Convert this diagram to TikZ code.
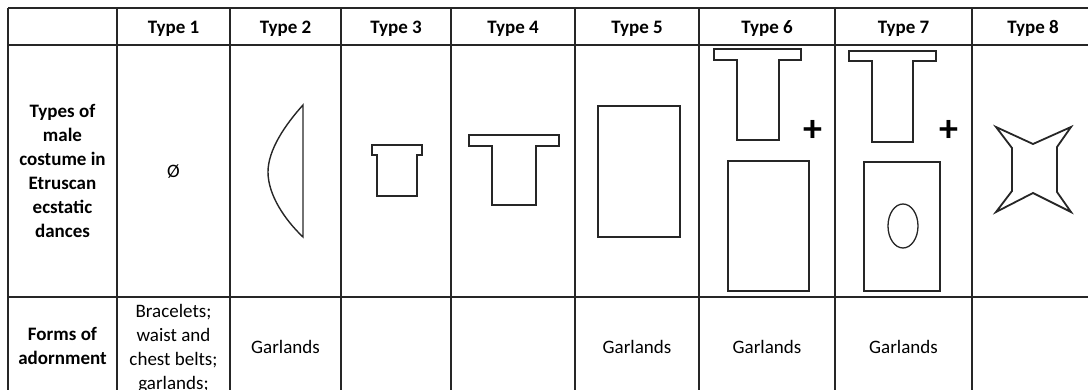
\documentclass[tikz,border=0pt]{standalone}
\usepackage{fontspec}
\setmainfont{Carlito}
\begin{document}
\begin{tikzpicture}[x=1pt,y=-1pt,
		grid/.style={line width=1.1pt,draw=black!85},
		figure/.style={line width=1.8pt,draw=black!85,line join=miter},
		head/.style={font=\fontsize{19}{24}\selectfont\bfseries,inner sep=0pt},
		cell/.style={font=\fontsize{19}{24}\selectfont,inner sep=0pt,align=center},
		rowlabel/.style={cell,font=\fontsize{19}{24}\selectfont\bfseries},
		plus/.style={font=\fontsize{38}{38}\selectfont\bfseries,inner sep=0pt}]
			\useasboundingbox (0,0) rectangle (1088,390);
			\clip (0,0) rectangle (1088,390);
			\draw [grid] (8,8) to (1088,8);
			\draw [grid] (8,45) to (1088,45);
			\draw [grid] (8,297) to (1088,297);
			\draw [grid] (8,8) to (8,390);
			\draw [grid] (117,8) to (117,390);
			\draw [grid] (230,8) to (230,390);
			\draw [grid] (341,8) to (341,390);
			\draw [grid] (451,8) to (451,390);
			\draw [grid] (575,8) to (575,390);
			\draw [grid] (699,8) to (699,390);
			\draw [grid] (835,8) to (835,390);
			\draw [grid] (972,8) to (972,390);
			\node[head] (type1) at (173.5,28.5) {Type 1};
			\node[head] (type2) at (285.5,28.5) {Type 2};
			\node[head] (type3) at (396,28.5) {Type 3};
			\node[head] (type4) at (513,28.5) {Type 4};
			\node[head] (type5) at (637,28.5) {Type 5};
			\node[head] (type6) at (767,28.5) {Type 6};
			\node[head] (type7) at (903.5,28.5) {Type 7};
			\node[head] (type8) at (1033,28.5) {Type 8};
			\node[rowlabel] (costume) at (62.5,171) {Types of\\male\\costume in\\Etruscan\\ecstatic\\dances};
			\node[rowlabel] (adorn) at (62.5,346) {Forms of\\adornment};
			\node[cell] (empty) at (173.5,172) {Ø};
			\node[cell,anchor=north] (belts) at (173.5,304) {Bracelets;\\waist and\\chest belts;\\garlands;};
			\node[cell] (garl2) at (285.5,346.5) {Garlands};
			\node[cell] (garl5) at (637,346.5) {Garlands};
			\node[cell] (garl6) at (767,346.5) {Garlands};
			\node[cell] (garl7) at (903.5,346.5) {Garlands};
			\draw [figure,line width=1.4pt] (303,105) .. controls (285,125) and (268,150) .. (268,172) .. controls (268,195) and (285,220) .. (303,237) -- cycle;
			\draw [figure] (372,145) -- (422,145) -- (422,155) -- (417,155) -- (417,196) -- (377,196) -- (377,155) -- (372,155) -- cycle;
			\draw [figure] (469,135) -- (559,135) -- (559,146) -- (536,146) -- (536,205) -- (492,205) -- (492,146) -- (469,146) -- cycle;
			\draw [figure] (598,106) rectangle (680,237);
			\draw [figure] (714,49) -- (801,49) -- (801,60) -- (779,60) -- (779,140) -- (737,140) -- (737,60) -- (714,60) -- cycle;
			\draw [figure] (728,161) rectangle (809,291);
			\node[plus] (plus6) at (813,131) {+};
			\draw [figure] (849,51) -- (936,51) -- (936,61) -- (913,61) -- (913,142) -- (872,142) -- (872,61) -- (849,61) -- cycle;
			\draw [figure] (864,162) rectangle (940,291);
			\draw [figure,line width=1.3pt] (903,226) ellipse [x radius=15,y radius=22];
			\node[plus] (plus7) at (949,131) {+};
			\draw [figure] (996,127) -- (1033,144) -- (1071,127) -- (1057,147) -- (1057,192) -- (1071,212) -- (1033,193) -- (996,212) -- (1012,191) -- (1012,148) -- cycle;
\end{tikzpicture}
\end{document}
